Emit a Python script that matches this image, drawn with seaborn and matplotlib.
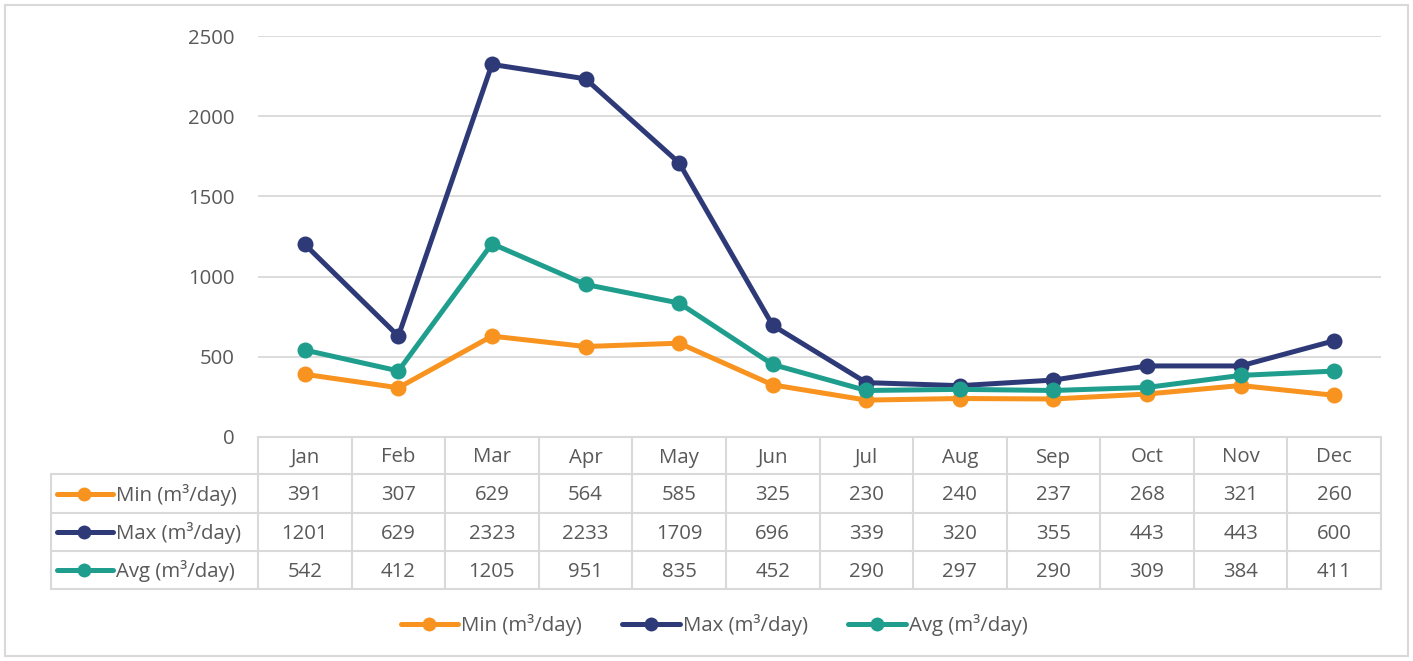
import pandas as pd
import matplotlib.pyplot as plt
import seaborn as sns
from matplotlib.lines import Line2D
from matplotlib.patches import Rectangle

months = ['Jan', 'Feb', 'Mar', 'Apr', 'May', 'Jun', 'Jul', 'Aug', 'Sep', 'Oct', 'Nov', 'Dec']
min_vals = [391, 307, 629, 564, 585, 325, 230, 240, 237, 268, 321, 260]
max_vals = [1201, 629, 2323, 2233, 1709, 696, 339, 320, 355, 443, 443, 600]
avg_vals = [542, 412, 1205, 951, 835, 452, 290, 297, 290, 309, 384, 411]
series_names = ['Min (m³/day)', 'Max (m³/day)', 'Avg (m³/day)']
colors = ['#F7931E', '#2E3A78', '#1F9E8E']

sns.set_theme(style="white")
plt.rcParams['font.family'] = ['Open Sans', 'DejaVu Sans']

W, H = 1413, 661
TXT = '#595959'
GRID = '#D9D9D9'
FS = 14.7

# layout in pixels
left, right, top, bottom = 258, 1381, 36, 437
lab_left = 51
rows_y = [437, 474, 513, 551, 589]

rows = []
for name, vals in zip(series_names, [min_vals, max_vals, avg_vals]):
    for i, v in enumerate(vals):
        rows.append({'idx': i, 'Series': name, 'Value': v})
df = pd.DataFrame(rows)

fig = plt.figure(figsize=(W / 100, H / 100), dpi=100)
fig.patches.append(Rectangle((5 / W, 5 / H), (W - 10) / W, (H - 10) / H, transform=fig.transFigure,
                             fill=False, edgecolor=GRID, linewidth=1.5))

ax = fig.add_axes([left / W, (H - bottom) / H, (right - left) / W, (bottom - top) / H])
sns.lineplot(data=df, x='idx', y='Value', hue='Series', palette=colors, hue_order=series_names,
             marker='o', markersize=11.5, markeredgewidth=0, linewidth=3.6, ax=ax, legend=False)
ax.set_xlim(-0.5, 11.5)
ax.set_ylim(0, 2500)
ax.set_yticks(range(0, 2501, 500))
ax.set_xticks([])
ax.set_xlabel('')
ax.set_ylabel('')
ax.yaxis.grid(True, color=GRID, linewidth=1.3)
ax.set_axisbelow(True)
for s in ax.spines.values():
    s.set_visible(False)
ax.tick_params(axis='y', length=0, pad=17, labelsize=FS, labelcolor=TXT)

# data table
tab = fig.add_axes([0, 0, 1, 1], facecolor='none')
tab.set_xlim(0, W)
tab.set_ylim(H, 0)
tab.axis('off')
colw = (right - left) / len(months)
tab.plot([left, right], [rows_y[0]] * 2, color=GRID, lw=1.5)
for y in rows_y[1:]:
    tab.plot([lab_left, right], [y, y], color=GRID, lw=1.5)
for k in range(len(months) + 1):
    tab.plot([left + k * colw] * 2, [rows_y[0], rows_y[-1]], color=GRID, lw=1.5)
tab.plot([lab_left, lab_left], [rows_y[1], rows_y[-1]], color=GRID, lw=1.5)

for i, m in enumerate(months):
    tab.text(left + (i + 0.5) * colw, (rows_y[0] + rows_y[1]) / 2 + 2, m, ha='center', va='center',
             fontsize=FS, color=TXT)
for r, (name, vals, c) in enumerate(zip(series_names, [min_vals, max_vals, avg_vals], colors)):
    yc = (rows_y[r + 1] + rows_y[r + 2]) / 2
    tab.plot([57, 113], [yc, yc], color=c, lw=3.6, solid_capstyle='round')
    tab.plot([84], [yc], marker='o', color=c, markersize=10, markeredgewidth=0)
    tab.text(116, yc + 1, name, ha='left', va='center', fontsize=FS, color=TXT)
    for i, v in enumerate(vals):
        tab.text(left + (i + 0.5) * colw, yc + 2, str(v), ha='center', va='center', fontsize=FS, color=TXT)

handles = [Line2D([], [], color=c, lw=3.6, marker='o', markersize=10, markeredgewidth=0,
                  solid_capstyle='round') for c in colors]
leg = fig.legend(handles, series_names, loc='center', bbox_to_anchor=(714 / W, (H - 625) / H), ncol=3,
                 frameon=False, fontsize=FS, handlelength=2.8, handletextpad=0.15, columnspacing=2.0)
for t in leg.get_texts():
    t.set_color(TXT)

fig.savefig('out.png', dpi=100)
